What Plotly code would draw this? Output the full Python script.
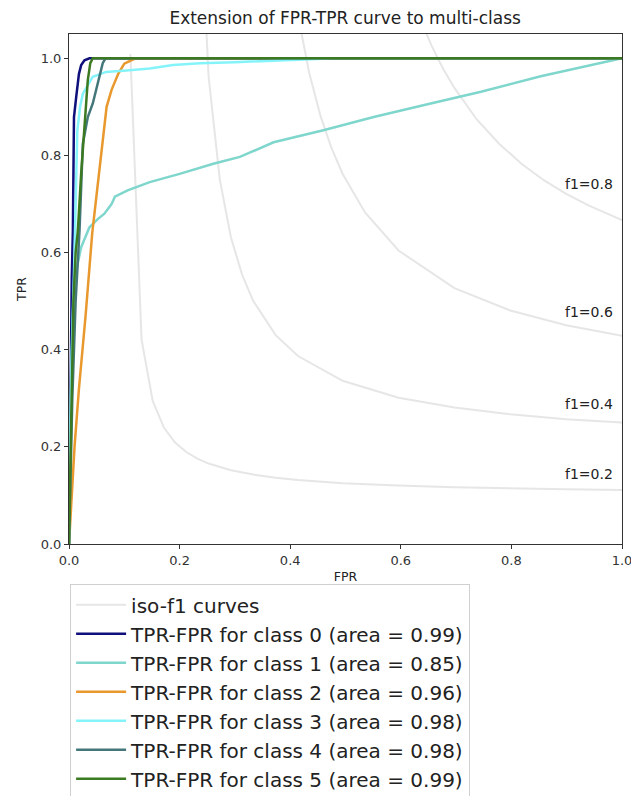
import plotly.graph_objects as go

# ---- iso-f1 curves ----
iso_labels = ["f1=0.2", "f1=0.4", "f1=0.6", "f1=0.8"]
iso_label_y = [0.132, 0.276, 0.465, 0.728]
iso_x = [
    [0.1110, 0.1312, 0.1514, 0.1716, 0.1918, 0.2120, 0.2322, 0.2524, 0.2929, 0.3333,
     0.3737, 0.4141, 0.4949, 0.5959, 0.6969, 0.7980, 0.8990, 1.0],
    [0.2120, 0.2322, 0.2524, 0.2727, 0.2929, 0.3131, 0.3333, 0.3737, 0.4141, 0.4949,
     0.5959, 0.6969, 0.7980, 0.8990, 1.0],
    [0.3131, 0.3333, 0.3535, 0.3737, 0.3939, 0.4141, 0.4343, 0.4545, 0.4747, 0.4949,
     0.5353, 0.5959, 0.6969, 0.7980, 0.8990, 1.0],
    [0.4141, 0.4343, 0.4545, 0.4747, 0.4949, 0.5151, 0.5353, 0.5555, 0.5757, 0.5959,
     0.6161, 0.6363, 0.6565, 0.6767, 0.6969, 0.7374, 0.7778, 0.8182, 0.8586, 0.8990,
     0.9394, 1.0],
]
iso_y = [
    [1.009, 0.4205, 0.2946, 0.2397, 0.2089, 0.1893, 0.1756, 0.1656, 0.1518, 0.1429,
     0.1365, 0.1318, 0.1253, 0.1202, 0.1168, 0.1143, 0.1125, 0.1111],
    [3.53, 1.442, 0.963, 0.750, 0.631, 0.554, 0.500, 0.430, 0.387, 0.336,
     0.301, 0.281, 0.267, 0.257, 0.250],
    [7.17, 3.003, 1.982, 1.521, 1.2585, 1.0888, 0.9701, 0.8825, 0.8152, 0.7618,
     0.6825, 0.6042, 0.5268, 0.4807, 0.4503, 0.4286],
    [11.75, 5.065, 3.336, 2.542, 2.086, 1.790, 1.583, 1.429, 1.311, 1.217,
     1.140, 1.077, 1.024, 0.978, 0.939, 0.874, 0.824, 0.783, 0.749, 0.721,
     0.697, 0.667],
]

# ---- per-class ROC curves ----
class_names = ["class 0", "class 1", "class 2", "class 3", "class 4", "class 5"]
class_auc = ["0.99", "0.85", "0.96", "0.98", "0.98", "0.99"]
class_colors = ["#10107c", "#7fd6cc", "#e8982c", "#85f4fa", "#44777a", "#3b7a22"]

fpr = [
    [0.0, 0.002, 0.005, 0.007, 0.009, 0.013, 0.018, 0.022, 0.028, 0.037, 1.0],
    [0.0, 0.003, 0.008, 0.013, 0.022, 0.037, 0.052, 0.064, 0.077, 0.083, 0.106, 0.146,
     0.200, 0.261, 0.309, 0.370, 0.460, 0.551, 0.654, 0.745, 0.853, 1.0],
    [0.0, 0.010, 0.018, 0.030, 0.042, 0.050, 0.060, 0.068, 0.077, 0.089, 0.100, 0.113,
     0.120, 1.0],
    [0.0, 0.005, 0.010, 0.015, 0.020, 0.025, 0.043, 0.067, 0.104, 0.146, 0.188, 0.237,
     0.300, 0.400, 0.480, 1.0],
    [0.0, 0.006, 0.012, 0.019, 0.025, 0.034, 0.043, 0.049, 0.055, 0.061, 0.066, 1.0],
    [0.0, 0.003, 0.008, 0.012, 0.016, 0.022, 0.031, 0.034, 0.0385, 0.043, 1.0],
]
tpr = [
    [0.0, 0.30, 0.55, 0.645, 0.879, 0.92, 0.968, 0.986, 0.996, 1.0, 1.0],
    [0.0, 0.30, 0.50, 0.563, 0.611, 0.652, 0.669, 0.680, 0.700, 0.715, 0.728, 0.745,
     0.762, 0.783, 0.797, 0.827, 0.852, 0.879, 0.907, 0.931, 0.963, 1.0],
    [0.0, 0.20, 0.32, 0.47, 0.64, 0.72, 0.83, 0.90, 0.935, 0.968, 0.989, 0.997,
     1.0, 1.0],
    [0.0, 0.40, 0.60, 0.85, 0.90, 0.927, 0.962, 0.972, 0.975, 0.979, 0.986, 0.990,
     0.992, 0.996, 1.0, 1.0],
    [0.0, 0.30, 0.50, 0.645, 0.824, 0.879, 0.907, 0.934, 0.962, 0.990, 1.0, 1.0],
    [0.0, 0.20, 0.50, 0.60, 0.645, 0.763, 0.90, 0.955, 0.99, 1.0, 1.0],
]

tick_vals = [0, 0.2, 0.4, 0.6, 0.8, 1.0]
tick_text = ["0.0", "0.2", "0.4", "0.6", "0.8", "1.0"]

FONT = "DejaVu Sans"
fig = go.Figure()

for i in range(len(iso_labels)):
    fig.add_trace(go.Scatter(
        x=iso_x[i], y=iso_y[i], mode="lines",
        line=dict(color="rgba(128,128,128,0.2)", width=2),
        name="iso-f1 curves", showlegend=(i == 0), legendgroup="iso",
        hoverinfo="skip",
    ))
    fig.add_annotation(
        x=0.9, y=iso_label_y[i], text=iso_labels[i], showarrow=False,
        xanchor="left", yanchor="bottom", yshift=-4, xshift=-4,
        font=dict(family=FONT, size=14, color="#222"),
    )

for i in range(len(class_names)):
    fig.add_trace(go.Scatter(
        x=fpr[i], y=tpr[i], mode="lines",
        line=dict(color=class_colors[i], width=2.5),
        name=f"TPR-FPR for {class_names[i]} (area = {class_auc[i]})",
        legendgroup=f"g{i}",
    ))

axis_common = dict(
    showgrid=False, zeroline=False, showline=True, mirror=True,
    linecolor="#333", linewidth=1, ticks="outside", ticklen=4, tickcolor="#333",
    tickfont=dict(family=FONT, size=13, color="#333"),
    ticklabeloverflow="allow", automargin=False,
)
fig.update_layout(
    width=631, height=796,
    margin=dict(l=69, r=9, t=34, b=252, autoexpand=False),
    paper_bgcolor="white", plot_bgcolor="white",
    title=dict(text="Extension of FPR-TPR curve to multi-class",
               x=0.547, xanchor="center", y=0.977, yanchor="middle",
               font=dict(family=FONT, size=17, color="#222")),
    xaxis=dict(range=[0, 1.0], tickvals=tick_vals, ticktext=tick_text,
               title=dict(text="FPR", font=dict(family=FONT, size=12.5, color="#222"), standoff=5),
               **axis_common),
    yaxis=dict(range=[0, 1.05], tickvals=tick_vals, ticktext=tick_text,
               title=dict(text="TPR", font=dict(family=FONT, size=12.5, color="#222"), standoff=11),
               **axis_common),
    legend=dict(x=0.002, y=-0.079, xanchor="left", yanchor="top",
                bgcolor="white", bordercolor="#d0d0d0", borderwidth=1,
                font=dict(family=FONT, size=20, color="#222"),
                itemwidth=50, traceorder="normal"),
    showlegend=True,
)

fig.write_html("out.html")
